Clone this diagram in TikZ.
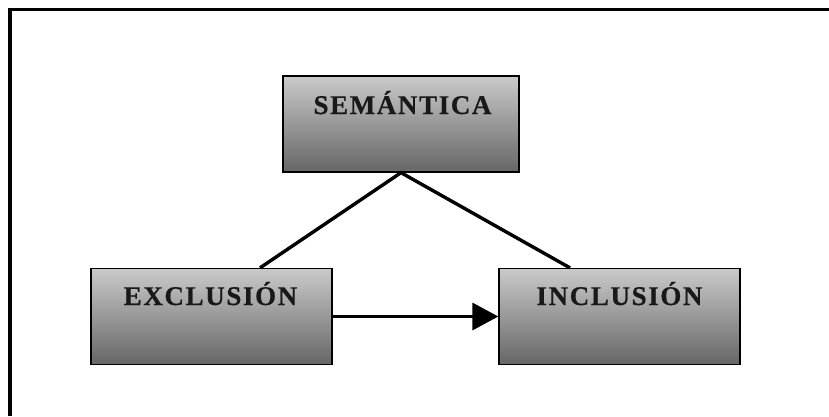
\documentclass[tikz,border=0pt]{standalone}
\usepackage{fontspec}
\setmainfont{Liberation Serif}
\usetikzlibrary{arrows.meta,calc}
\definecolor{boxtop}{RGB}{202,202,202}
\definecolor{boxbot}{RGB}{102,102,102}
\tikzset{
  box/.style={draw=black, line width=1.3pt, top color=boxtop, bottom color=boxbot,
    minimum width=240pt, minimum height=96pt, inner sep=0pt},
  lbl/.style={anchor=base, inner sep=0pt, text=black!90,
    font=\fontsize{27}{27}\selectfont\bfseries\addfontfeature{LetterSpace=6,FakeBold=0.6}},
  conn/.style={line width=3.4pt},
}
\begin{document}
\begin{tikzpicture}[x=1pt,y=-1pt]
\useasboundingbox (0,0) rectangle (829,416);
% frame (top and left edges visible)
\coordinate (fbl) at (10,416);
\coordinate (ftl) at (10,9.5);
\coordinate (ftr) at (829,9.5);
\draw[line width=3.5pt] (fbl) -- (ftl) -- (ftr);
% boxes
\node[box, minimum width=236pt] (sem) at (401,124) {};
\node[box, minimum width=241pt] (exc) at (211.5,316.5) {};
\node[box, minimum width=241pt] (inc) at (619.5,316.5) {};
% labels
\node[lbl] (semt) at (402.5,114) {SEMÁNTICA};
\node[lbl] (exct) at (210.5,305) {EXCLUSIÓN};
\node[lbl] (inct) at (619.5,305) {INCLUSIÓN};
% connectors
\draw[conn] ([xshift=48.5pt]exc.north) -- (sem.south) -- ([xshift=-49.5pt]inc.north);
\draw[conn, -{Triangle[length=26pt,width=27pt]}] (exc.east) -- (inc.west);
\end{tikzpicture}
\end{document}
